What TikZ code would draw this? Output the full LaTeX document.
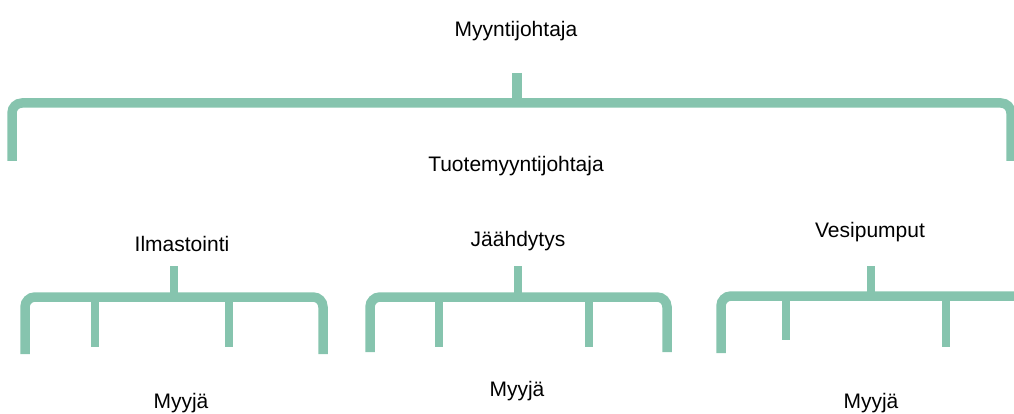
\documentclass[tikz,border=0pt]{standalone}
\usepackage{fontspec}
\setmainfont{Liberation Sans}
\begin{document}
\begin{tikzpicture}[x=1pt,y=-1pt,
  lbl/.style={font=\fontsize{21}{24}\selectfont, text=black, inner sep=0pt},
  brk/.style={draw={rgb,255:red,134;green,196;blue,174}, line width=9.5pt, rounded corners=10pt, line cap=butt},
  stem/.style={brk, line width=8.5pt}]
\useasboundingbox (0,0) rectangle (1014,414);
% labels
\node[lbl] (mj) at (516,31) {Myyntijohtaja};
\node[lbl] (tj) at (516,166) {Tuotemyyntijohtaja};
\node[lbl] (il) at (182,244) {Ilmastointi};
\node[lbl] (ja) at (518,241) {Jäähdytys};
\node[lbl] (ve) at (870,232) {Vesipumput};
\node[lbl] (m1) at (181,403) {Myyjä};
\node[lbl] (m2) at (517,391) {Myyjä};
\node[lbl] (m3) at (871,403) {Myyjä};
% top bracket
\coordinate (t0) at (517,73);
\coordinate (tb) at (517,103);
\draw[brk] (12,161) -- (12,103) -- (1011,103) -- (1011,161);
\draw[stem, line width=10pt] (t0) -- (tb);
% group 1
\draw[brk] (25,354) -- (25,297) -- (323,297) -- (323,354);
\draw[stem] (174,266) -- (174,297);
\draw[stem] (95,297) -- (95,347);
\draw[stem] (229,297) -- (229,347);
% group 2
\draw[brk] (370,352) -- (370,297) -- (667,297) -- (667,352);
\draw[stem] (518,266) -- (518,297);
\draw[stem] (439,297) -- (439,347);
\draw[stem] (589,297) -- (589,347);
% group 3
\draw[brk] (721,353) -- (721,296) -- (1020,296);
\draw[stem] (871,266) -- (871,296);
\draw[stem] (786,296) -- (786,340);
\draw[stem] (946,296) -- (946,347);
\end{tikzpicture}
\end{document}
